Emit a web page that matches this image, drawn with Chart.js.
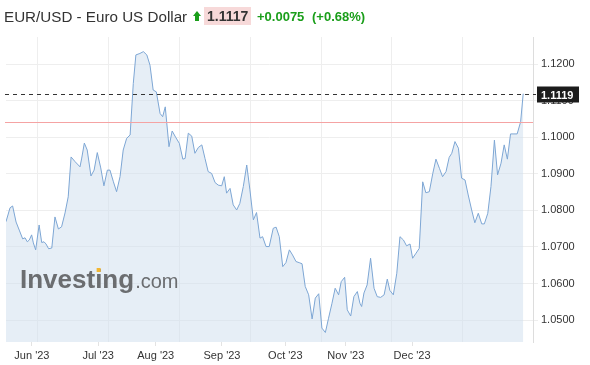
<!DOCTYPE html>
<html>
<head>
<meta charset="utf-8">
<script src="https://cdn.jsdelivr.net/npm/chart.js@4"></script>
<style>
  body { margin: 0; background: #fff; font-family: Arial, "Liberation Sans", sans-serif; }
  #wrap { position: relative; width: 590px; height: 365px; }
  #eurChart { position: absolute; left: 0; top: 0; }
  .hd { position: absolute; white-space: nowrap; line-height: 1; }
  #title { left: 4px; top: 9px; font-size: 15.2px; color: #333; }
  #arrow { left: 193px; top: 11px; width: 8px; height: 12px; }
  #arrow .head { width: 0; height: 0; border-left: 4px solid transparent; border-right: 4px solid transparent; border-bottom: 5px solid #1a9e1a; }
  #arrow .stem { width: 4px; height: 5px; margin-left: 2px; background: #1a9e1a; }
  #price { left: 204px; top: 7px; padding: 2px 3px; background: #f7d9d9; font-size: 14px; font-weight: bold; color: #333; }
  #chg { left: 257px; top: 10px; font-size: 13px; font-weight: bold; color: #1a9e1a; }
  #pct { left: 312px; top: 10px; font-size: 13px; font-weight: bold; color: #1a9e1a; }
</style>
</head>
<body>
<div id="wrap">
  <canvas id="eurChart" width="590" height="365"></canvas>
  <div class="hd" id="title">EUR/USD - Euro US Dollar</div>
  <div class="hd" id="arrow"><div class="head"></div><div class="stem"></div></div>
  <div class="hd" id="price">1.1117</div>
  <div class="hd" id="chg">+0.0075</div>
  <div class="hd" id="pct">(+0.68%)</div>
</div>
<script>
const ctx = document.getElementById('eurChart').getContext('2d');

// trading-day index of each sampled close
const days = [0, 1.4, 2.3, 3.5, 4.6, 5.8, 6.6, 7.4, 8.1, 8.9, 9.5, 10.3, 11.5, 12.4, 13.2, 13.9, 14.8, 15.9,
  17.0, 18.2, 19.3, 20.5, 21.6, 22.6, 24.0, 25.7, 26.3, 27.2, 28.2, 29.5, 30.6, 31.7, 32.9, 34.0, 35.2, 36.1,
  37.3, 38.4, 39.6, 40.7, 41.9, 43.1, 44.2, 45.1, 46.5, 47.7, 48.9, 50.0, 51.1, 52.2, 53.5, 54.4, 55.3, 56.6,
  57.7, 58.9, 60.2, 61.4, 62.2, 63.3, 64.5, 65.6, 66.8, 68.0, 69.1, 70.2, 71.4, 72.6, 73.7, 74.9, 75.8, 76.6,
  77.8, 78.9, 80.1, 81.2, 82.4, 83.6, 84.7, 85.9, 87.0, 88.2, 89.1, 90.3, 91.4, 92.8, 93.8, 94.9, 96.1, 97.2,
  98.4, 99.5, 100.7, 101.8, 102.8, 103.9, 105.1, 106.3, 107.4, 108.6, 109.7, 110.9, 112.0, 113.2, 114.3, 115.5,
  116.4, 117.6, 118.5, 119.7, 120.8, 122.0, 122.9, 123.5, 124.3, 125.4, 126.6, 127.8, 128.9, 130.1, 131.3, 132.4,
  133.3, 134.5, 135.7, 136.8, 138.0, 139.1, 140.3, 141.2, 142.4, 143.5, 144.7, 145.8, 147.0, 148.2, 149.3, 150.5,
  151.6, 152.8, 153.9, 154.8, 155.9, 157.1, 158.2, 159.4, 160.5, 161.7, 162.8, 164.0, 165.2, 166.1, 167.3, 168.4,
  169.6, 170.7, 171.9, 173.0, 174.1, 175.2, 176.4, 177.5, 178.7, 179.6];

const closes = [1.0769, 1.0807, 1.0812, 1.0768, 1.0746, 1.0722, 1.0725, 1.0714, 1.0719, 1.0733, 1.0711, 1.0692,
  1.0760, 1.0712, 1.0714, 1.0708, 1.0695, 1.0697, 1.0782, 1.0749, 1.0755, 1.0793, 1.0837, 1.0946, 1.0933, 1.0919,
  1.0943, 1.0984, 1.0965, 1.0894, 1.0910, 1.0958, 1.0916, 1.0867, 1.0910, 1.0910, 1.0878, 1.0851, 1.0892, 1.0965,
  1.0997, 1.1006, 1.1147, 1.1225, 1.1229, 1.1234, 1.1225, 1.1197, 1.1129, 1.1124, 1.1065, 1.1056, 1.1083, 1.0974,
  1.1017, 1.1000, 1.0983, 1.0940, 1.0942, 1.1011, 1.1003, 1.0956, 1.0972, 1.0979, 1.0942, 1.0906, 1.0901, 1.0876,
  1.0869, 1.0867, 1.0892, 1.0847, 1.0860, 1.0815, 1.0801, 1.0819, 1.0865, 1.0924, 1.0856, 1.0774, 1.0794, 1.0724,
  1.0728, 1.0701, 1.0701, 1.0751, 1.0754, 1.0728, 1.0646, 1.0657, 1.0692, 1.0678, 1.0660, 1.0657, 1.0654, 1.0592,
  1.0569, 1.0503, 1.0560, 1.0572, 1.0478, 1.0466, 1.0505, 1.0546, 1.0587, 1.0569, 1.0605, 1.0617, 1.0528, 1.0511,
  1.0564, 1.0578, 1.0546, 1.0537, 1.0574, 1.0596, 1.0669, 1.0587, 1.0564, 1.0562, 1.0569, 1.0612, 1.0581, 1.0569,
  1.0628, 1.0728, 1.0719, 1.0703, 1.0708, 1.0669, 1.0683, 1.0696, 1.0878, 1.0848, 1.0851, 1.0901, 1.0940, 1.0915,
  1.0892, 1.0906, 1.0945, 1.0956, 1.0988, 1.0970, 1.0888, 1.0883, 1.0842, 1.0801, 1.0766, 1.0792, 1.0763, 1.0763,
  1.0792, 1.0865, 1.0992, 1.0897, 1.0929, 1.0979, 1.0940, 1.1009, 1.1009, 1.1009, 1.1042, 1.1119];

const monthLabels = ["Jun '23", "Jul '23", "Aug '23", "Sep '23", "Oct '23", "Nov '23", "Dec '23"];
const monthDays = [9, 32, 52, 75, 97, 118, 141];
const gridDays = [11, 35.6, 60.2, 84.8, 109.4, 134, 158.6];
const yTicks = [1.05, 1.06, 1.07, 1.08, 1.09, 1.10, 1.11, 1.12];
const lastPrice = 1.1119;
const prevClose = 1.1042;

const points = days.map((d, i) => ({ x: d, y: closes[i] }));

// price lines, last price box and watermark
const overlay = {
  id: 'overlay',
  afterDatasetsDraw(chart) {
    const c = chart.ctx;
    const area = chart.chartArea;
    const y = chart.scales.y;
    c.save();
    // watermark
    const wx = area.left + 14;
    c.fillStyle = '#6b6d70';
    c.font = 'bold 26px Arial, "Liberation Sans"';
    c.textBaseline = 'alphabetic';
    c.fillText('Investing', wx, 288);
    const w = c.measureText('Investing').width;
    const iw = c.measureText('Invest').width;
    c.fillStyle = '#f2b632';
    c.fillRect(wx + iw + 1.5, 268, 4, 4);
    c.fillStyle = '#6b6d70';
    c.font = '20px Arial, "Liberation Sans"';
    c.fillText('.com', wx + w + 1, 288);
    // previous close
    const py = Math.round(y.getPixelForValue(prevClose)) + 0.5;
    c.strokeStyle = '#f5a3a3';
    c.lineWidth = 1;
    c.beginPath();
    c.moveTo(area.left - 1, py);
    c.lineTo(area.right, py);
    c.stroke();
    // last price
    const ly = Math.round(y.getPixelForValue(lastPrice)) + 0.5;
    c.strokeStyle = '#333';
    c.setLineDash([4, 4]);
    c.beginPath();
    c.moveTo(area.left - 1, ly);
    c.lineTo(area.right + 3, ly);
    c.stroke();
    c.setLineDash([]);
    c.fillStyle = '#1c1c1c';
    c.fillRect(area.right + 4, ly - 8, 42, 16);
    c.fillStyle = '#fff';
    c.font = 'bold 11px Arial, "Liberation Sans"';
    c.textBaseline = 'middle';
    c.fillText(lastPrice.toFixed(4), area.right + 8, ly + 1);
    c.restore();
  }
};

const config = {
  type: 'line',
  data: {
    datasets: [{
      data: points,
      borderColor: '#7da6d4',
      backgroundColor: 'rgba(205,221,237,0.5)',
      borderWidth: 1,
      fill: 'start',
      pointRadius: 0,
      tension: 0
    }]
  },
  options: {
    responsive: false,
    animation: false,
    layout: { padding: { top: 37, left: 6, right: 0, bottom: 0 } },
    plugins: { legend: { display: false }, tooltip: { enabled: false } },
    scales: {
      x: {
        type: 'linear',
        position: 'bottom',
        min: 0,
        max: 183,
        afterBuildTicks: s => { s.ticks = monthDays.map(v => ({ value: v })); },
        afterFit: s => { s.height = 23; },
        grid: { drawOnChartArea: false, color: '#e3e3e3', tickLength: 4 },
        border: { display: false },
        ticks: {
          autoSkip: false,
          maxRotation: 0,
          padding: 3,
          color: '#333',
          font: { family: 'Arial, "Liberation Sans"', size: 11 },
          callback: (v, i) => monthLabels[i]
        }
      },
      xg: {
        type: 'linear',
        position: 'bottom',
        min: 0,
        max: 183,
        afterBuildTicks: s => { s.ticks = gridDays.map(v => ({ value: v })); },
        afterFit: s => { s.height = 0; },
        grid: { color: '#eeeeee', drawTicks: false },
        border: { display: false },
        ticks: { display: false }
      },
      y: {
        type: 'linear',
        position: 'right',
        min: 1.044,
        max: 1.1274,
        afterBuildTicks: s => { s.ticks = yTicks.map(v => ({ value: v })); },
        afterFit: s => { s.width = 57; },
        grid: { color: '#eeeeee', tickLength: 5 },
        border: { color: '#dddddd' },
        ticks: {
          padding: 3,
          color: '#333',
          font: { family: 'Arial, "Liberation Sans"', size: 11 },
          callback: v => v.toFixed(4)
        }
      }
    }
  },
  plugins: [overlay]
};

const eurChart = new Chart(ctx, config);
</script>
</body>
</html>
